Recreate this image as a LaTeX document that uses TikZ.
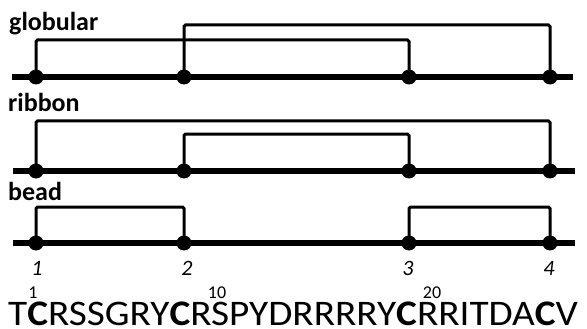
\documentclass[tikz,border=0pt]{standalone}
\usepackage{fontspec}
\setmainfont{Carlito}
\begin{document}
\begin{tikzpicture}[x=1pt,y=-1pt,
  backbone/.style={line width=6.5pt},
  bond/.style={line width=3pt, rounded corners=1.5pt},
  cys/.style={circle, fill=black, inner sep=0pt, minimum size=15pt},
  lab/.style={font=\fontsize{26}{26}\selectfont\bfseries, anchor=base west, inner sep=0pt},
  num/.style={font=\fontsize{22}{22}\selectfont\itshape, anchor=base, inner sep=0pt},
  sup/.style={font=\fontsize{18}{18}\selectfont, anchor=base, inner sep=0pt}]
\useasboundingbox (0,0) rectangle (587,329);
% globular
\node[lab] (lg) at (9,31) {globular};
\coordinate (g0) at (12,77); \coordinate (g5) at (573,77);
\draw[backbone] (g0) -- (g5);
\node[cys] (g1) at (36,77) {}; \node[cys] (g2) at (184,77) {};
\node[cys] (g3) at (409,77) {}; \node[cys] (g4) at (550,77) {};
\draw[bond] (g1.center) |- (120,40) -| (g3.center);
\draw[bond] (g2.center) |- (300,25) -| (g4.center);
% ribbon
\node[lab] (lr) at (8,112) {ribbon};
\coordinate (r0) at (13,171); \coordinate (r5) at (575,171);
\draw[backbone] (r0) -- (r5);
\node[cys] (r1) at (36,171) {}; \node[cys] (r2) at (184,171) {};
\node[cys] (r3) at (409,171) {}; \node[cys] (r4) at (550,171) {};
\draw[bond] (r1.center) |- (120,121) -| (r4.center);
\draw[bond] (r2.center) |- (300,134) -| (r3.center);
% bead
\node[lab] (lb) at (8,200) {bead};
\coordinate (b0) at (13,243); \coordinate (b5) at (575,243);
\draw[backbone] (b0) -- (b5);
\node[cys] (b1) at (36,243) {}; \node[cys] (b2) at (184,243) {};
\node[cys] (b3) at (409,243) {}; \node[cys] (b4) at (550,243) {};
\draw[bond] (b1.center) |- (100,207) -| (b2.center);
\draw[bond] (b3.center) |- (480,207) -| (b4.center);
% numbers
\node[num] (n1) at (37,275) {1};
\node[num] (n2) at (187,275) {2};
\node[num] (n3) at (408,275) {3};
\node[num] (n4) at (549,275) {4};
% sequence
\node[font=\fontsize{36}{36}\selectfont, anchor=base west, inner sep=0pt, text height=23pt, text depth=0pt, xscale=1.09, transform shape] (seq) at (8,325)
  {T\textbf{C}RSSGRY\textbf{C}RSPYDRRRRY\textbf{C}RRITDA\textbf{C}V};
\node[sup, text depth=0pt] (s1) at (33,298) {1};
\node[sup, text depth=0pt] (s10) at (217,298) {10};
\node[sup, text depth=0pt] (s20) at (432,298) {20};
\end{tikzpicture}
\end{document}
